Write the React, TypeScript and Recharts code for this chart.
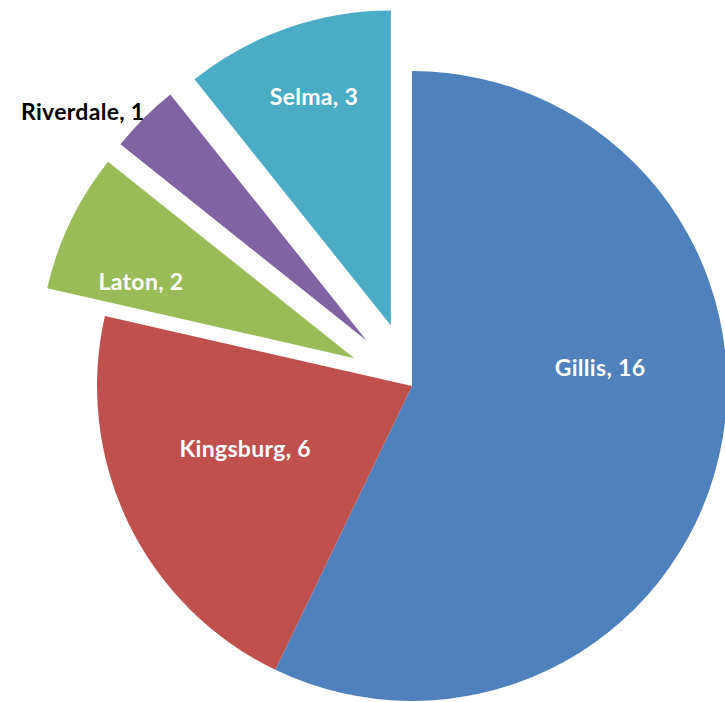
import { Cell, Pie, PieChart } from "recharts";

const towns = ["Gillis", "Kingsburg", "Laton", "Riverdale", "Selma"];
const counts = [16, 6, 2, 1, 3];
const colors = ["#4F81BD", "#C0504D", "#9BBB59", "#8064A2", "#4BACC6"];
const explode = [0, 0, 64, 64, 64];
const labelRadius = [0.6, 0.565, 0.72, 1.16, 0.77];
const labelTurn = [18.7, -5.3, 5.9, 6, -0.8];
const labelColors = ["#fff", "#fff", "#fff", "#000", "#fff"];

const data = towns.map((name, i) => ({ name, value: counts[i] }));
const total = counts.reduce((a, b) => a + b, 0);
const RAD = Math.PI / 180;

const CX = 412;
const CY = 386;
const R = 315;

function midAngleOf(i: number) {
  const before = counts.slice(0, i).reduce((a, b) => a + b, 0);
  return 90 - (360 * (before + counts[i] / 2)) / total;
}

function makeLabel(target: number) {
  return (p: any) => {
    if (p.index !== target) return null;
    const a = (p.midAngle + labelTurn[target]) * RAD;
    const r = p.outerRadius * labelRadius[target];
    const x = p.cx + r * Math.cos(a);
    const y = p.cy - r * Math.sin(a);
    return (
      <text
        x={x}
        y={y}
        fill={labelColors[target]}
        textAnchor="middle"
        dominantBaseline="central"
        fontFamily="Lato, 'Open Sans', sans-serif"
        fontWeight="bold"
        fontSize={23}
        letterSpacing={0.3}
      >
        {`${p.name}, ${p.value}`}
      </text>
    );
  };
}

export default function App() {
  return (
    <div style={{ position: "absolute", left: 0, top: 0, width: 725, height: 702, overflow: "hidden" }}>
      <PieChart width={725} height={702} margin={{ top: 0, right: 0, bottom: 0, left: 0 }}>
        {towns.map((_, t) => {
          const m = midAngleOf(t) * RAD;
          const cx = CX + explode[t] * Math.cos(m);
          const cy = CY - explode[t] * Math.sin(m);
          return (
            <Pie
              key={t}
              data={data}
              dataKey="value"
              nameKey="name"
              cx={cx}
              cy={cy}
              outerRadius={R}
              startAngle={90}
              endAngle={-270}
              stroke="none"
              labelLine={false}
              label={makeLabel(t)}
              isAnimationActive={false}
            >
              {data.map((d, i) => (
                <Cell key={d.name} fill={i === t ? colors[i] : "transparent"} stroke="none" />
              ))}
            </Pie>
          );
        })}
      </PieChart>
    </div>
  );
}
